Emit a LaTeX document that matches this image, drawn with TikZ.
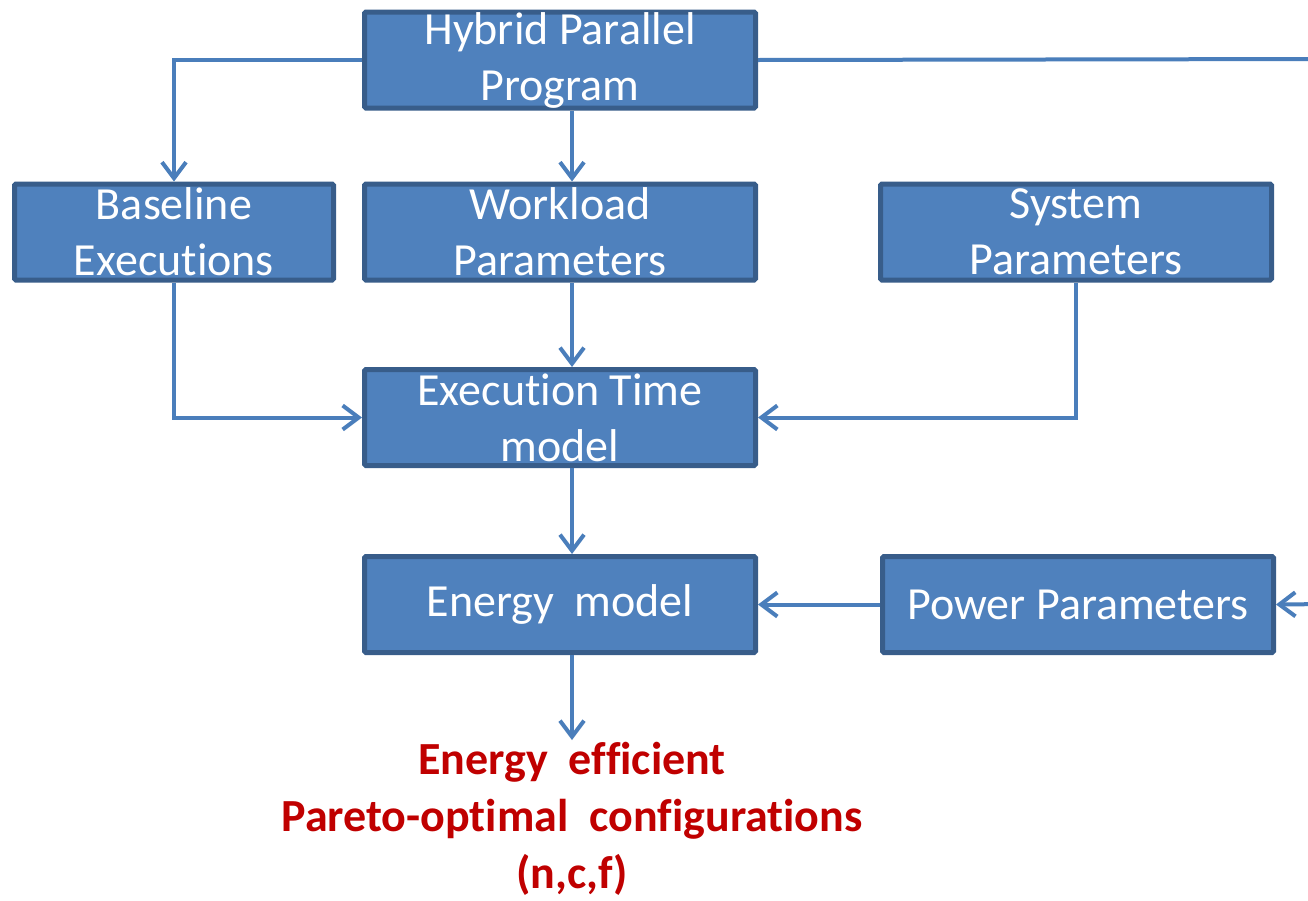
\documentclass[tikz,border=0pt]{standalone}
\usepackage{fontspec}
\setmainfont[Ligatures={NoCommon,NoContextual,NoRare}]{Carlito}
\usetikzlibrary{arrows.meta}
\definecolor{boxfill}{HTML}{4F81BD}
\definecolor{boxline}{HTML}{385D8A}
\definecolor{flow}{HTML}{4A7EBB}
\definecolor{result}{HTML}{C00000}
\begin{document}
\begin{tikzpicture}[x=1pt,y=-1pt,
  block/.style={draw=boxline, fill=boxfill, line width=5pt, rounded corners=1.5pt,
    minimum width=391pt, minimum height=96pt, inner sep=0pt, text=white,
    align=center, font=\fontsize{46pt}{56pt}\selectfont},
  link/.style={draw=flow, line width=4pt,
    -{Straight Barb[length=16pt,width=24pt,line width=4pt]}}]
\clip (0,0) rectangle (1308,900);
\fill[white] (0,0) rectangle (1308,900);

% boxes
\node[block] (hpp) at (560,60) {Hybrid Parallel\\Program};
\node[block, minimum width=319pt] (base) at (174,232) {Baseline\\Executions};
\node[block] (work) at (560,232) {Workload\\Parameters};
\node[block] (sys) at (1076,232) {System\\Parameters};
\node[block] (exec) at (560,417.5) {Execution Time\\model};
\node[block] (energy) at (560,604.5) {Energy~~model};
\node[block] (power) at (1078,604.5) {Power Parameters};

% result text
\node[text=result, align=center, inner sep=0pt,
  font=\fontsize{46pt}{57pt}\selectfont\bfseries] (out) at (572,819)
  {Energy~~efficient\\Pareto-optimal~~configurations\\(n,c,f)};
\coordinate (outtop) at (572,740);

% off-page route towards the power box
\coordinate (farR1) at (1330,59);
\coordinate (farR2) at (1330,604);

% connectors
\draw[link] (hpp.west) -| (base.north);
\draw[link] ([xshift=12pt]hpp.south) -- ([xshift=12pt]work.north);
\draw[link] (hpp.east) -- (farR1) -- (farR2) -- (power.east);
\draw[link] ([xshift=12pt]work.south) -- ([xshift=12pt]exec.north);
\draw[link] (base.south) |- (exec.west);
\draw[link] (sys.south) |- (exec.east);
\draw[link] ([xshift=12pt]exec.south) -- ([xshift=12pt]energy.north);
\draw[link] (power.west) -- (energy.east);
\draw[link] ([xshift=12pt]energy.south) -- (outtop);
\end{tikzpicture}
\end{document}
